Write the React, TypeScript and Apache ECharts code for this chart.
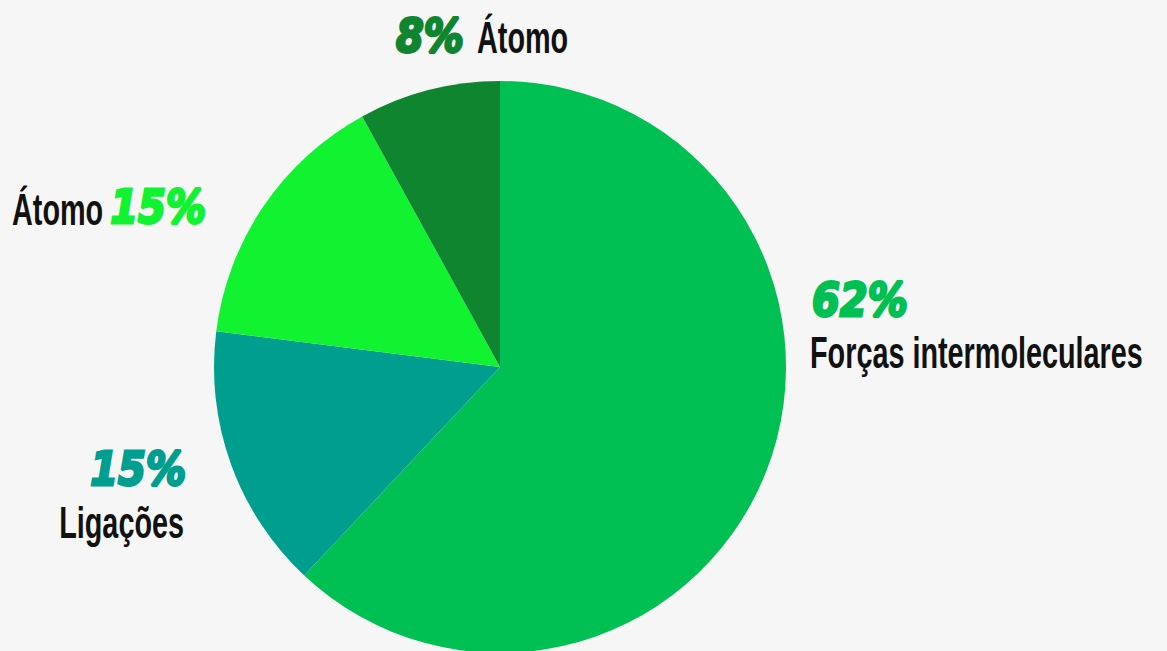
import React, { useEffect, useRef } from "react";
import * as echarts from "echarts";

const categories = ["Forças intermoleculares", "Ligações", "Átomo", "Átomo"];
const values = [62, 15, 15, 8];
const colors = ["#00C054", "#009E8E", "#11F231", "#108530"];

// label anchors: [pctX, pctY, pctAlign, nameX, nameY, nameAlign]
const labelAnchors: [number, number, string, number, number, string][] = [
  [812, 300, "left", 810, 353, "left"],
  [186, 469, "right", 184, 523, "right"],
  [206, 207, "right", 12, 210, "left"],
  [396, 36, "left", 477, 38, "left"],
];

export default function App() {
  const ref = useRef<HTMLDivElement>(null);
  useEffect(() => {
    document.body.style.margin = "0";
    const chart = echarts.init(ref.current!, null, { renderer: "svg" });
    const data = categories.map((name, i) => ({
      name,
      value: values[i],
      itemStyle: { color: colors[i] },
    }));
    const graphics: any[] = [];
    categories.forEach((name, i) => {
      const [px, py, pa, nx, ny, na] = labelAnchors[i];
      graphics.push({
        type: "text",
        x: px,
        y: py,
        scaleX: 1,
        scaleY: 1.15,
        silent: true,
        style: {
          text: `${values[i]}%`,
          fontFamily: "DejaVu Sans",
          fontWeight: "bold",
          fontStyle: "italic",
          fontSize: 40,
          fill: colors[i],
          stroke: colors[i],
          lineWidth: 2.5,
          textAlign: pa,
          textVerticalAlign: "middle",
        },
      });
      graphics.push({
        type: "text",
        x: nx,
        y: ny,
        scaleX: 0.72,
        scaleY: 1.1,
        silent: true,
        style: {
          text: name,
          fontFamily: "'Liberation Sans', Arial, sans-serif",
          fontWeight: "bold",
          fontSize: 40,
          fill: "#111111",
          textAlign: na,
          textVerticalAlign: "middle",
        },
      });
    });
    chart.setOption({
      animation: false,
      backgroundColor: "#F6F6F6",
      series: [
        {
          type: "pie",
          center: [500, 367],
          radius: 286,
          startAngle: 90,
          clockwise: true,
          data,
          label: { show: false },
          labelLine: { show: false },
          emphasis: { disabled: true },
        },
      ],
      graphic: graphics,
    });
    return () => chart.dispose();
  }, []);
  return (
    <div
      ref={ref}
      style={{ position: "fixed", left: 0, top: 0, width: 1167, height: 651 }}
    />
  );
}
